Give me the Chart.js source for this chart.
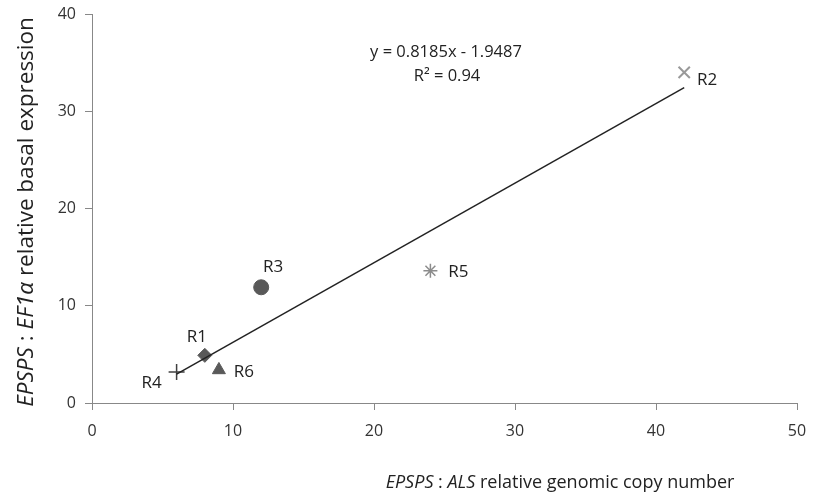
<!DOCTYPE html>
<html lang="en">
<head>
  <meta charset="UTF-8">
  <title>EPSPS copy number vs expression</title>
  <script src="https://cdn.jsdelivr.net/npm/chart.js"></script>
  <style>
    html, body { margin: 0; padding: 0; background: #fff; }
    #wrap { width: 813px; height: 499px; position: relative; }
  </style>
</head>
<body>
  <div id="wrap"><canvas id="myChart" width="813" height="499"></canvas></div>
  <script>
    // populations
    const names = ['R1', 'R2', 'R3', 'R4', 'R5', 'R6'];
    const copyNumber = [8, 42, 12, 6, 24, 9];
    const expression = [4.9, 34, 11.9, 3.2, 13.6, 3.4];

    // linear trend y = a*x + b
    const slope = 0.8185;
    const intercept = -1.9487;
    const rSquared = 0.94;
    const trendX = [6, 42];

    const xTicks = [0, 10, 20, 30, 40, 50];
    const yTicks = [0, 10, 20, 30, 40];

    const FONT = '"Open Sans", sans-serif';

    // marker look for each population
    const markers = [
      { style: 'rectRot', color: '#595959', radius: 7, width: 1 },
      { style: 'crossRot', color: '#999999', radius: 8, width: 2 },
      { style: 'circle', color: '#595959', radius: 7.5, width: 1 },
      { style: 'cross', color: '#404040', radius: 8, width: 1.5 },
      { style: 'star', color: '#8c8c8c', radius: 7, width: 1.5 },
      { style: 'triangle', color: '#595959', radius: 7.5, width: 1 }
    ];
    // label offsets relative to each point (px)
    const labelOffset = [[-8, -18], [23, 8], [12, -20], [-25, 11], [28, 1], [25, 2]];

    const pointSets = names.map((n, i) => ({
      label: n,
      type: 'scatter',
      data: [{ x: copyNumber[i], y: expression[i] }],
      pointStyle: markers[i].style,
      pointRadius: markers[i].radius,
      pointBackgroundColor: markers[i].color,
      pointBorderColor: markers[i].color,
      pointBorderWidth: markers[i].width
    }));

    const trendSet = {
      label: 'trend',
      type: 'line',
      data: trendX.map(x => ({ x: x, y: slope * x + intercept })),
      borderColor: '#222',
      borderWidth: 1.5,
      pointRadius: 0,
      fill: false
    };

    function drawMixed(ctx, parts, x, y) {
      let total = 0;
      parts.forEach(p => { ctx.font = p[1]; total += ctx.measureText(p[0]).width; });
      let cx = x - total / 2;
      ctx.textAlign = 'left';
      parts.forEach(p => {
        ctx.font = p[1];
        ctx.fillText(p[0], cx, y);
        cx += ctx.measureText(p[0]).width;
      });
    }

    const annotations = {
      id: 'annotations',
      afterDatasetsDraw(chart) {
        const ctx = chart.ctx;
        const xs = chart.scales.x, ys = chart.scales.y;
        ctx.save();
        ctx.fillStyle = '#222';
        ctx.textBaseline = 'middle';
        ctx.font = '17px ' + FONT;
        ctx.textAlign = 'center';
        names.forEach((n, i) => {
          const px = xs.getPixelForValue(copyNumber[i]) + labelOffset[i][0];
          const py = ys.getPixelForValue(expression[i]) + labelOffset[i][1];
          ctx.fillText(n, px, py);
        });

        // regression equation
        ctx.font = '16.5px ' + FONT;
        ctx.fillText('y = ' + slope + 'x - ' + Math.abs(intercept), 446, 52);
        ctx.fillText('R\u00B2 = ' + rSquared, 447, 76);

        // axis titles with italic gene names
        let it = 'italic 18px ' + FONT, rg = '18px ' + FONT;
        drawMixed(ctx, [['EPSPS', it], [' : ', rg], ['ALS', it], [' relative genomic copy number', rg]], 560, 483);
        it = 'italic 22.5px ' + FONT; rg = '22.5px ' + FONT;
        ctx.translate(27, 212);
        ctx.rotate(-Math.PI / 2);
        drawMixed(ctx, [['EPSPS', it], [' : ', rg], ['EF1\u03B1', it], [' relative basal expression', rg]], 0, 0);
        ctx.restore();
      }
    };

    const ctx = document.getElementById('myChart').getContext('2d');
    new Chart(ctx, {
      data: { datasets: [trendSet, ...pointSets] },
      options: {
        responsive: false,
        animation: false,
        layout: { padding: { top: 14, right: 16, left: 0, bottom: 0 } },
        plugins: { legend: { display: false }, tooltip: { enabled: false } },
        scales: {
          x: {
            type: 'linear',
            min: 0, max: 50,
            afterBuildTicks: s => { s.ticks = xTicks.map(v => ({ value: v })); },
            afterFit: s => { s.height = 96; s.paddingLeft = 0; s.paddingRight = 0; },
            grid: { drawOnChartArea: false, drawTicks: true, tickLength: 7, color: '#888' },
            border: { color: '#888', width: 1 },
            ticks: { color: '#333', font: { family: FONT, size: 16 }, padding: 12 }
          },
          y: {
            type: 'linear',
            min: 0, max: 40,
            afterBuildTicks: s => { s.ticks = yTicks.map(v => ({ value: v })); },
            afterFit: s => { s.width = 92; s.paddingTop = 0; s.paddingBottom = 0; },
            grid: { drawOnChartArea: false, drawTicks: true, tickLength: 7, color: '#888' },
            border: { color: '#888', width: 1 },
            ticks: { color: '#333', font: { family: FONT, size: 16 }, padding: 9 }
          }
        }
      },
      plugins: [annotations]
    });
  </script>
</body>
</html>
